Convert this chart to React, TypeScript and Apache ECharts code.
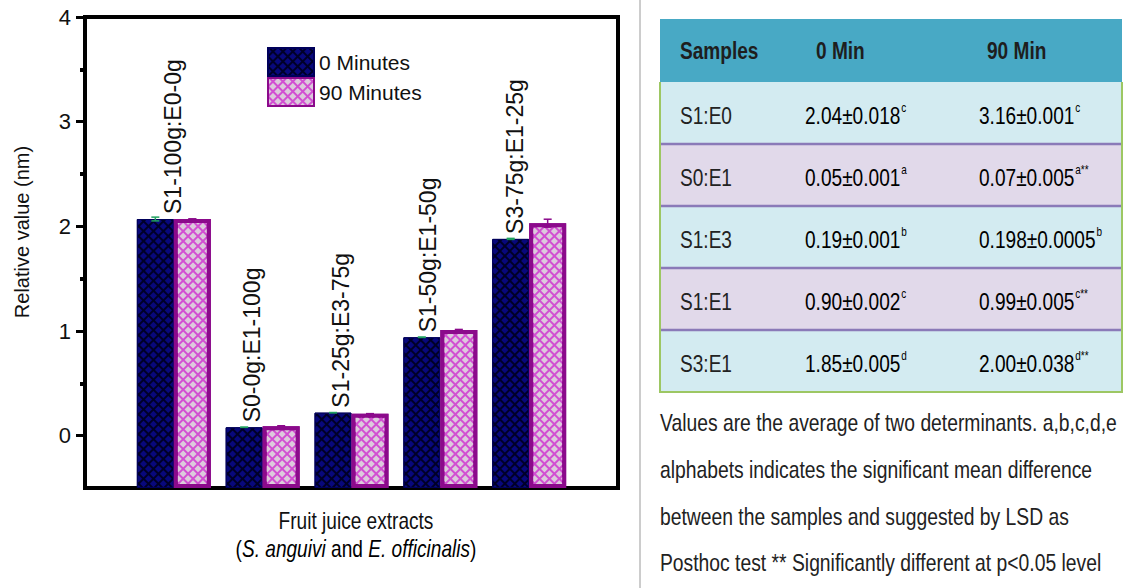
import React, { useEffect, useRef } from "react";
import * as echarts from "echarts";

const categories = ["S1-100g:E0-0g", "S0-0g:E1-100g", "S1-25g:E3-75g", "S1-50g:E1-50g", "S3-75g:E1-25g"];
const values0 = [2.07, 0.08, 0.22, 0.94, 1.88];
const values90 = [2.07, 0.09, 0.21, 1.01, 2.03];
const errors0 = [0.018, 0.001, 0.001, 0.002, 0.005];
const errors90 = [0.001, 0.005, 0.0005, 0.005, 0.038];
const seriesNames = ["0 Minutes", "90 Minutes"];
const yMin = -0.5;
const yMax = 4;
const yTicks = [0, 1, 2, 3, 4];
const yMinorTicks = [0.5, 1.5, 2.5, 3.5];
const labelDx = [18, 8, 8, 6, 4];

const tableHeader = ["Samples", "0 Min", "90 Min"];
const tableSamples = ["S1:E0", "S0:E1", "S1:E3", "S1:E1", "S3:E1"];
const table0 = ["2.04±0.018", "0.05±0.001", "0.19±0.001", "0.90±0.002", "1.85±0.005"];
const sup0 = ["c", "a", "b", "c", "d"];
const table90 = ["3.16±0.001", "0.07±0.005", "0.198±0.0005", "0.99±0.005", "2.00±0.038"];
const sup90 = ["c", "a**", "b", "c**", "d**"];
const footnote = [
  "Values are the average of two determinants. a,b,c,d,e",
  "alphabets indicates the significant mean difference",
  "between the samples and suggested by LSD as",
  "Posthoc test ** Significantly different at p<0.05 level",
];

const FONT = '"Liberation Sans", Arial, sans-serif';
const SQ = 0.83; // horizontal squeeze of the source figure

export default function App() {
  const ref = useRef<HTMLDivElement>(null);
  useEffect(() => {
    const chart = echarts.init(ref.current!, undefined, { renderer: "svg" });
    const xData = ["", ...categories, ""];
    const pad = (arr: any[]) => ["-", ...arr, "-"];

    const blueDecal = {
      symbol: "rect",
      symbolSize: 1,
      color: "#08087c",
      dashArrayX: [5, 1.3],
      dashArrayY: [5, 1.3],
      rotation: Math.PI / 4,
    };
    const pinkDecal = {
      symbol: "rect",
      symbolSize: 1,
      color: "#dccadc",
      dashArrayX: [5, 1.3],
      dashArrayY: [5, 1.3],
      rotation: Math.PI / 4,
    };

    const errSeries = (vals: number[], errs: number[], dx: number, color: string) => ({
      type: "custom",
      z: 10,
      silent: true,
      encode: { x: 0, y: 1 },
      data: vals.map((v, i) => [i + 1, v, errs[i]]),
      renderItem: (params: any, api: any) => {
        const x = api.value(0);
        const v = api.value(1);
        const e = api.value(2);
        const hi = api.coord([x, v + e]);
        const lo = api.coord([x, v - e]);
        const cx = hi[0] + dx;
        const st = { stroke: color, lineWidth: 1.5 };
        return {
          type: "group",
          children: [
            { type: "line", shape: { x1: cx, y1: hi[1], x2: cx, y2: lo[1] }, style: st },
            { type: "line", shape: { x1: cx - 4, y1: hi[1], x2: cx + 4, y2: hi[1] }, style: st },
            { type: "line", shape: { x1: cx - 4, y1: lo[1], x2: cx + 4, y2: lo[1] }, style: st },
          ],
        };
      },
    });

    const baseSeries = (stack: string) => ({
      type: "bar", stack, stackStrategy: "all", barWidth: 37, barGap: "0%", silent: true,
      data: pad(categories.map(() => yMin)),
      itemStyle: { color: "transparent" },
    });

    // table graphics
    const tLeft = 660, tRight = 1122, hTop = 19, hH = 63, rH = 62;
    const tW = tRight - tLeft;
    const colX = [680, 805, 979];
    const g: any[] = [];
    g.push({ type: "line", shape: { x1: 640, y1: 0, x2: 640, y2: 588 }, style: { stroke: "#9a9a9a", lineWidth: 1 } });
    g.push({ type: "rect", shape: { x: tLeft, y: hTop, width: tW, height: hH }, style: { fill: "#48a9c5" } });
    const hx = [680, 816, 987];
    tableHeader.forEach((h, i) => {
      g.push({
        type: "text", x: hx[i], y: hTop + hH / 2, scaleX: SQ,
        style: { text: h, fill: "#1e1e1e", font: `bold 23px ${FONT}`, verticalAlign: "middle", align: "left" },
      });
    });
    tableSamples.forEach((s, r) => {
      const y0 = hTop + hH + r * rH;
      g.push({ type: "rect", shape: { x: tLeft, y: y0, width: tW, height: rH }, style: { fill: r % 2 === 0 ? "#d3ebf1" : "#e1d9ea" } });
      const cy = y0 + rH / 2 + 3;
      const rich = {
        m: { fontSize: 23, fontFamily: FONT, color: "#222" },
        s: { fontSize: 12, fontFamily: FONT, color: "#222", padding: [0, 0, 16, 1] },
      };
      g.push({ type: "text", x: colX[0], y: cy, scaleX: SQ, style: { text: s, fill: "#222", font: `23px ${FONT}`, verticalAlign: "middle" } });
      g.push({ type: "text", x: colX[1], y: cy, scaleX: SQ, style: { text: `{m|${table0[r]}}{s|${sup0[r]}}`, rich, verticalAlign: "middle" } });
      g.push({ type: "text", x: colX[2], y: cy, scaleX: SQ, style: { text: `{m|${table90[r]}}{s|${sup90[r]}}`, rich, verticalAlign: "middle" } });
    });
    for (let r = 1; r < tableSamples.length; r++) {
      const y = hTop + hH + r * rH;
      g.push({ type: "line", shape: { x1: tLeft, y1: y, x2: tRight, y2: y }, style: { stroke: "#8a7ab8", lineWidth: 2.5 } });
    }
    const tBottom = hTop + hH + tableSamples.length * rH;
    g.push({
      type: "polyline",
      shape: { points: [[tLeft, hTop + hH], [tLeft, tBottom], [tRight, tBottom], [tRight, hTop + hH]] },
      style: { stroke: "#9dc763", lineWidth: 2, fill: null },
    });
    footnote.forEach((t, i) => {
      g.push({ type: "text", x: 660, y: 423 + i * 46.7, scaleX: 0.805, style: { text: t, fill: "#222", font: `24px ${FONT}`, verticalAlign: "middle" } });
    });
    // axis titles
    g.push({
      type: "text", x: 22, y: 232, rotation: Math.PI / 2,
      style: { text: "Relative value (nm)", fill: "#111", font: `20px ${FONT}`, align: "center", verticalAlign: "middle" },
    });
    g.push({
      type: "text", x: 356, y: 521, scaleX: SQ,
      style: { text: "Fruit juice extracts", fill: "#111", font: `23px ${FONT}`, align: "center", verticalAlign: "middle" },
    });
    g.push({
      type: "text", x: 356, y: 549, scaleX: SQ,
      style: {
        text: "{n|(}{i|S. anguivi}{n| and }{i|E. officinalis}{n|)}",
        align: "center", verticalAlign: "middle",
        rich: {
          n: { fontSize: 23, fontFamily: FONT, color: "#111" },
          i: { fontSize: 23, fontFamily: FONT, fontStyle: "italic", color: "#111" },
        },
      },
    });

    chart.setOption({
      animation: false,
      backgroundColor: "#fff",
      grid: { left: 85, right: 509, top: 17, bottom: 100, show: true, borderColor: "#000", borderWidth: 4, backgroundColor: "transparent" },
      legend: {
        left: 267, top: 47, orient: "vertical", itemWidth: 46, itemHeight: 28, itemGap: 0, padding: 0,
        icon: "rect",
        textStyle: { fontSize: 21, fontFamily: FONT, color: "#111" },
        data: seriesNames,
      },
      xAxis: {
        type: "category", data: xData, boundaryGap: false,
        axisLine: { show: false }, axisTick: { show: false }, axisLabel: { show: false }, splitLine: { show: false },
      },
      yAxis: [
        {
          type: "value", min: yMin, max: yMax,
          axisLine: { show: true, lineStyle: { color: "#000", width: 4 } },
          axisTick: { show: true, length: 9, customValues: yTicks, lineStyle: { color: "#000", width: 3 } },
          axisLabel: { customValues: yTicks, fontSize: 22, fontFamily: FONT, color: "#111", margin: 14 },
          splitLine: { show: false },
        },
        {
          type: "value", min: yMin, max: yMax, position: "left",
          axisLine: { show: false },
          axisTick: { show: true, length: 5, customValues: yMinorTicks, lineStyle: { color: "#000", width: 4 } },
          axisLabel: { show: false },
          splitLine: { show: false },
        },
      ],
      series: [
        baseSeries("s0"),
        {
          type: "bar", name: seriesNames[0], stack: "s0", stackStrategy: "all",
          data: pad(values0.map((v, i) => ({ value: v - yMin, label: { offset: [0, labelDx[i]] } }))),
          barWidth: 37, barGap: "0%",
          itemStyle: { color: "#000028", borderColor: "#00005a", borderWidth: 1, decal: blueDecal },
          label: {
            show: true, position: "top", rotate: 90, align: "left", verticalAlign: "middle", distance: 5,
            formatter: "{b}", fontSize: 23, fontFamily: FONT, color: "#111",
          },
        },
        baseSeries("s1"),
        {
          type: "bar", name: seriesNames[1], stack: "s1", stackStrategy: "all",
          data: pad(values90.map((v) => v - yMin)), barWidth: 37, barGap: "0%",
          itemStyle: { color: "#d24fd2", borderColor: "#8b0a8b", borderWidth: 4, decal: pinkDecal },
        },
        errSeries(values0, errors0, -18.5, "#20a060"),
        errSeries(values90, errors90, 18.5, "#8b0a8b"),
      ],
      graphic: g,
    });
    return () => chart.dispose();
  }, []);
  return <div ref={ref} style={{ position: "absolute", left: 0, top: 0, width: 1127, height: 588 }} />;
}
